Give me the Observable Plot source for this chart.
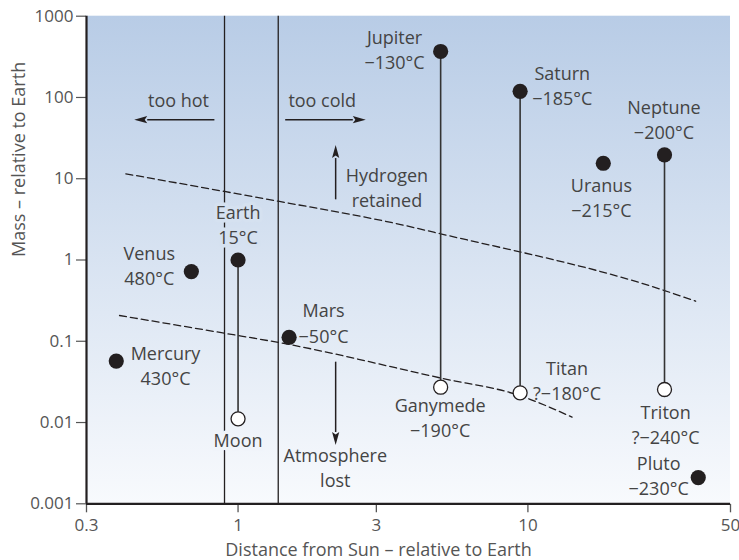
<!DOCTYPE html>
<html>
<head>
<meta charset="utf-8">
<script src="https://cdn.jsdelivr.net/npm/d3@7"></script>
<script src="https://cdn.jsdelivr.net/npm/@observablehq/plot@0.6"></script>
<style>
  html, body { margin: 0; padding: 0; background: #ffffff; }
  #chart { width: 739px; height: 560px; }
</style>
</head>
<body>
<div id="chart"></div>
<script>
// ---- data ----
const planetNames = ["Mercury", "Venus", "Earth", "Mars", "Jupiter", "Saturn", "Uranus", "Neptune", "Pluto"];
const planetDist  = [0.38, 0.69, 1.0, 1.5, 5.0, 9.4, 18.2, 29.6, 38.7];
const planetMass  = [0.057, 0.72, 1.0, 0.112, 368, 119, 15.5, 19.7, 0.0021];

const moonNames      = ["Moon", "Ganymede", "Titan", "Triton"];
const moonDist       = [1.0, 5.0, 9.4, 29.6];
const moonMass       = [0.0111, 0.0272, 0.0232, 0.0255];
const moonParentMass = [1.0, 368, 119, 19.7];

// habitable-zone boundaries (distance)
const zoneBounds = [0.898, 1.376];

// dashed threshold curves
const upperLineX = [0.41, 0.898, 1.376, 3.64, 5.0, 29.6, 37.9];
const upperLineY = [11.5, 6.97, 5.29, 2.73, 2.10, 0.421, 0.311];
const lowerLineX = [0.39, 0.898, 1.38, 5.0, 9.36, 14.2];
const lowerLineY = [0.2075, 0.1256, 0.0966, 0.0353, 0.0215, 0.01164];

// annotation arrows (start -> tip)
const arrowX1 = [0.832, 1.46, 2.18, 2.18];
const arrowY1 = [52.5, 52.5, 5.5, 0.0553];
const arrowX2 = [0.44, 2.77, 2.18, 2.18];
const arrowY2 = [52.5, 52.5, 25.6, 0.00522];

// text labels (anchor = centre x, baseline of last line)
const labelText = [
  "too hot", "too cold", "Hydrogen\nretained",
  "Jupiter\n\u2212130\u00b0C", "Saturn\n\u2212185\u00b0C", "Neptune\n\u2212200\u00b0C", "Uranus\n\u2212215\u00b0C",
  "Earth\n15\u00b0C", "Venus\n480\u00b0C", "Mars\n\u221250\u00b0C", "Mercury\n430\u00b0C", "Moon",
  "Ganymede\n\u2212190\u00b0C", "Titan\n?\u2212180\u00b0C", "Triton\n?\u2212240\u00b0C", "Pluto\n\u2212230\u00b0C",
  "Atmosphere\nlost"
];
const labelX = [0.623, 1.952, 3.263, 3.467, 13.14, 29.47, 17.93, 1.0, 0.494, 1.972, 0.562, 1.0, 4.98, 13.65, 29.87, 28.25, 2.165];
const labelY = [75.9, 75.9, 4.465, 224, 81.2, 31.0, 3.363, 1.583, 0.4858, 0.0958, 0.02914, 0.004973, 0.0066, 0.01868, 0.005475, 0.001266, 0.0016];
const labelHalo = [false, false, false, false, false, false, false, true, false, false, false, true, false, false, false, false, false];

const xTicks = [0.3, 1, 3, 10, 50];
const xTickLabels = ["0.3", "1", "3", "10", "50"];
const yTicks = [0.001, 0.01, 0.1, 1, 10, 100, 1000];
const yTickLabels = ["0.001", "0.01", "0.1", "1", "10", "100", "1000"];

const xTitle = "Distance from Sun \u2013 relative to Earth";
const yTitle = "Mass \u2013 relative to Earth";

// ---- styling ----
const bgTop = "#b8cce6";
const bgBottom = "#f8fafd";
const ink = "#231f20";
const textColor = "#444444";
const axisColor = "#555555";
const bgAt = d3.interpolateRgb(bgTop, bgBottom);

const xLabelMap = new Map(xTicks.map((t, i) => [t, xTickLabels[i]]));
const yLabelMap = new Map(yTicks.map((t, i) => [t, yTickLabels[i]]));

const pIdx = d3.range(planetNames.length);
const mIdx = d3.range(moonNames.length);
const lIdx = d3.range(labelText.length);
const aIdx = d3.range(arrowX1.length);
const upIdx = d3.range(upperLineX.length);
const loIdx = d3.range(lowerLineX.length);

const SVGNS = "http://www.w3.org/2000/svg";

// a short downward tick as a custom dot symbol
const downTick = { draw(context) { context.moveTo(0, 0); context.lineTo(0, 8.5); } };

function background(index, scales) {
  const g = document.createElementNS(SVGNS, "g");
  const defs = document.createElementNS(SVGNS, "defs");
  const lg = document.createElementNS(SVGNS, "linearGradient");
  lg.setAttribute("id", "bgGrad");
  lg.setAttribute("x1", "0"); lg.setAttribute("y1", "0");
  lg.setAttribute("x2", "0"); lg.setAttribute("y2", "1");
  [[0, bgTop], [1, bgBottom]].forEach(([o, c]) => {
    const s = document.createElementNS(SVGNS, "stop");
    s.setAttribute("offset", o);
    s.setAttribute("stop-color", c);
    lg.appendChild(s);
  });
  defs.appendChild(lg);
  g.appendChild(defs);
  const r = document.createElementNS(SVGNS, "rect");
  const x0 = scales.x(xTicks[0]), x1 = scales.x(xTicks[xTicks.length - 1]);
  const y0 = scales.y(yTicks[yTicks.length - 1]), y1 = scales.y(yTicks[0]);
  r.setAttribute("x", Math.min(x0, x1));
  r.setAttribute("y", Math.min(y0, y1));
  r.setAttribute("width", Math.abs(x1 - x0));
  r.setAttribute("height", Math.abs(y1 - y0));
  r.setAttribute("fill", "url(#bgGrad)");
  g.appendChild(r);
  return g;
}

function arrows(index, scales) {
  const g = document.createElementNS(SVGNS, "g");
  const headLen = 13, headHalf = 3.6;
  for (const i of aIdx) {
    const xa = scales.x(arrowX1[i]), ya = scales.y(arrowY1[i]);
    const xb = scales.x(arrowX2[i]), yb = scales.y(arrowY2[i]);
    const dx = xb - xa, dy = yb - ya;
    const len = Math.hypot(dx, dy);
    const ux = dx / len, uy = dy / len;
    const bx = xb - ux * headLen, by = yb - uy * headLen;
    const line = document.createElementNS(SVGNS, "line");
    line.setAttribute("x1", xa); line.setAttribute("y1", ya);
    line.setAttribute("x2", bx); line.setAttribute("y2", by);
    line.setAttribute("stroke", ink);
    line.setAttribute("stroke-width", 1.5);
    g.appendChild(line);
    const px = -uy, py = ux;
    const poly = document.createElementNS(SVGNS, "polygon");
    poly.setAttribute("points",
      `${xb},${yb} ${bx + px * headHalf},${by + py * headHalf} ${bx + ux * 2.5},${by + uy * 2.5} ${bx - px * headHalf},${by - py * headHalf}`);
    poly.setAttribute("fill", ink);
    g.appendChild(poly);
  }
  return g;
}

const LH = 1.405;

const chart = Plot.plot({
  width: 739,
  height: 560,
  marginLeft: 86,
  marginRight: 9,
  marginTop: 15.7,
  marginBottom: 56.7,
  style: { fontFamily: "'Open Sans', Lato, sans-serif", fontSize: "18px", background: "#ffffff", color: textColor },
  x: { type: "log", domain: [0.3, 50], axis: null },
  y: { type: "log", domain: [0.001, 1000], axis: null },
  marks: [
    background,
    // zone boundaries
    Plot.ruleX(zoneBounds, { stroke: ink, strokeWidth: 1.3 }),
    // dashed threshold curves
    Plot.line(upIdx, { x: i => upperLineX[i], y: i => upperLineY[i], stroke: ink, strokeWidth: 1.3, strokeDasharray: "7,4", curve: "monotone-x" }),
    Plot.line(loIdx, { x: i => lowerLineX[i], y: i => lowerLineY[i], stroke: ink, strokeWidth: 1.3, strokeDasharray: "7,4", curve: "monotone-x" }),
    // haloed labels (knock out the lines behind them)
    Plot.text(lIdx.filter(i => labelHalo[i]), {
      x: i => labelX[i], y: i => labelY[i], text: i => labelText[i],
      lineAnchor: "bottom", lineHeight: LH, fill: "none",
      stroke: i => bgAt((3 - Math.log10(labelY[i])) / 6 - 0.015), strokeWidth: 7
    }),
    // stems planet -> moon
    Plot.link(mIdx, { x1: i => moonDist[i], x2: i => moonDist[i], y1: i => moonParentMass[i], y2: i => moonMass[i], stroke: "#333333", strokeWidth: 1.6 }),
    // arrows
    arrows,
    // y axis
    Plot.axisY({ ticks: yTicks, tickFormat: d => yLabelMap.get(d), tickSize: 10, tickPadding: 3, stroke: axisColor, strokeWidth: 1.2, fill: axisColor, fontSize: 17, label: null }),
    // x axis (ticks + labels)
    Plot.dot(xTicks, { x: d => d, frameAnchor: "bottom", symbol: downTick, stroke: axisColor, strokeWidth: 1.3, fill: "none" }),
    Plot.text(xTicks, { x: d => d, frameAnchor: "bottom", text: d => xLabelMap.get(d), dy: 27, lineAnchor: "bottom", fill: axisColor, fontSize: 17 }),
    // axis lines
    Plot.ruleX([xTicks[0]], { stroke: ink, strokeWidth: 2.2 }),
    Plot.ruleY([yTicks[0]], { stroke: ink, strokeWidth: 2.2 }),
    // points
    Plot.dot(pIdx, { x: i => planetDist[i], y: i => planetMass[i], r: 7.6, fill: ink, stroke: "none" }),
    Plot.dot(mIdx, { x: i => moonDist[i], y: i => moonMass[i], r: 7, fill: "#ffffff", stroke: ink, strokeWidth: 1.3 }),
    // labels
    Plot.text(lIdx, {
      x: i => labelX[i], y: i => labelY[i], text: i => labelText[i],
      lineAnchor: "bottom", lineHeight: LH, fill: textColor
    }),
    // axis titles
    Plot.text([xTitle], { frameAnchor: "bottom", dx: -30, dy: 52, lineAnchor: "bottom", fill: axisColor }),
    Plot.text([yTitle], { frameAnchor: "left", dx: -62, dy: -3, rotate: -90, lineAnchor: "bottom", fill: axisColor })
  ]
});

document.getElementById("chart").appendChild(chart);
</script>
</body>
</html>
